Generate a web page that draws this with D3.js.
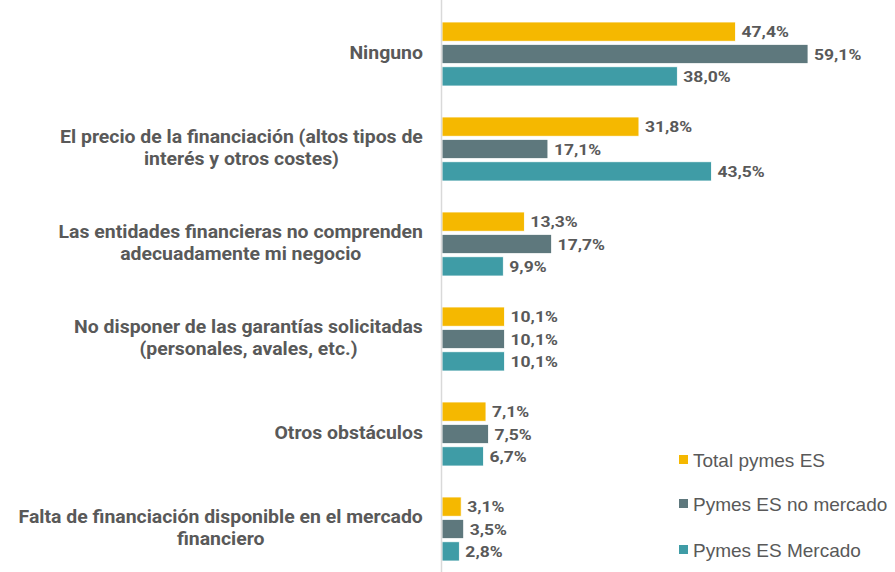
<!DOCTYPE html>
<html>
<head>
<meta charset="utf-8">
<script src="https://cdn.jsdelivr.net/npm/d3@7"></script>
<style>
  body { margin: 0; background: #fff; }
  svg { display: block; }
</style>
</head>
<body>
<div id="chart"></div>
<script>
// Categories (each label split into its lines)
var categories = [
    ['Ninguno'],
    ['El precio de la financiación (altos tipos de', 'interés y otros costes)'],
    ['Las entidades financieras no comprenden', 'adecuadamente mi negocio'],
    ['No disponer de las garantías solicitadas', '(personales, avales, etc.)'],
    ['Otros obstáculos'],
    ['Falta de financiación disponible en el mercado', 'financiero']
];
var seriesNames = ['Total pymes ES', 'Pymes ES no mercado', 'Pymes ES Mercado'];
var totalPymes  = [47.4, 31.8, 13.3, 10.1, 7.1, 3.1];
var noMercado   = [59.1, 17.1, 17.7, 10.1, 7.5, 3.5];
var mercado     = [38.0, 43.5, 9.9, 10.1, 6.7, 2.8];
var colors      = ['#F5B800', '#5E787D', '#3F9CA6'];

var W = 895, H = 572;
var x0 = 441, labelRight = 423;
// the source image is slightly stretched sideways, so text gets a small x-scale
var sxLabel = 1.08, sxValue = 1.13, sxLegend = 1.0;

var svg = d3.select('#chart').append('svg')
    .attr('width', W)
    .attr('height', H);

var x = d3.scaleLinear().domain([0, 59.1]).range([x0, 807]);
var y = d3.scaleBand()
    .domain(d3.range(categories.length))
    .range([5.5, 575.5]);
var ySub = d3.scaleBand()
    .domain(d3.range(3))
    .range([-31, 33])
    .paddingInner(0.14);

var series = [totalPymes, noMercado, mercado];

// bars + value labels
categories.forEach(function(cat, i){
    var cy = y(i) + y.bandwidth() / 2;
    var g = svg.append('g').attr('transform', 'translate(0,' + cy + ')');
    series.forEach(function(s, k){
        g.append('rect')
            .attr('x', x(0) + 1)
            .attr('y', ySub(k))
            .attr('width', x(s[i]) - x(0))
            .attr('height', ySub.bandwidth())
            .attr('fill', colors[k])
            .attr('stroke', '#fff')
            .attr('stroke-width', 0.8);
        g.append('text')
            .attr('transform', 'translate(' + (x(s[i]) + 7) + ',' + (ySub(k) + ySub.bandwidth() / 2) + ') scale(' + sxValue + ',1)')
            .attr('dy', '0.36em')
            .attr('font-family', 'Roboto, sans-serif')
            .attr('font-weight', 'bold')
            .attr('font-size', 15.5)
            .attr('fill', '#595959')
            .text(s[i].toFixed(1).replace('.', ',') + '%');
    });

    // category label: block right-aligned, lines centred inside it
    var lg = svg.append('g');
    var lbl = lg.append('text')
        .attr('font-family', 'Roboto, sans-serif')
        .attr('font-weight', 'bold')
        .attr('font-size', 18)
        .attr('fill', '#595959')
        .attr('text-anchor', 'middle');
    var lh = 22;
    var spans = cat.map(function(line, j){
        return lbl.append('tspan')
            .attr('x', 0)
            .attr('y', cy + (j - (cat.length - 1) / 2) * lh)
            .attr('dy', '0.35em')
            .text(line);
    });
    var maxW = d3.max(spans, function(t){ return t.node().getComputedTextLength(); }) * sxLabel;
    lg.attr('transform', 'translate(' + (labelRight - maxW / 2) + ',0) scale(' + sxLabel + ',1)');
});

// axis line
svg.append('line')
    .attr('x1', x0 + 0.5).attr('x2', x0 + 0.5)
    .attr('y1', 0).attr('y2', H)
    .attr('stroke', '#d9d9d9')
    .attr('stroke-width', 1.5);

// legend
var legendY = [460, 504, 550];
seriesNames.forEach(function(name, k){
    svg.append('rect')
        .attr('x', 679).attr('y', legendY[k] - 5)
        .attr('width', 9).attr('height', 9)
        .attr('fill', colors[k]);
    svg.append('text')
        .attr('x', 693).attr('y', legendY[k])
        .attr('dy', '0.35em')
        .attr('font-family', 'Liberation Sans, Arial, sans-serif')
        .attr('font-size', 19)
        .attr('fill', '#595959')
        .text(name);
});
</script>
</body>
</html>
